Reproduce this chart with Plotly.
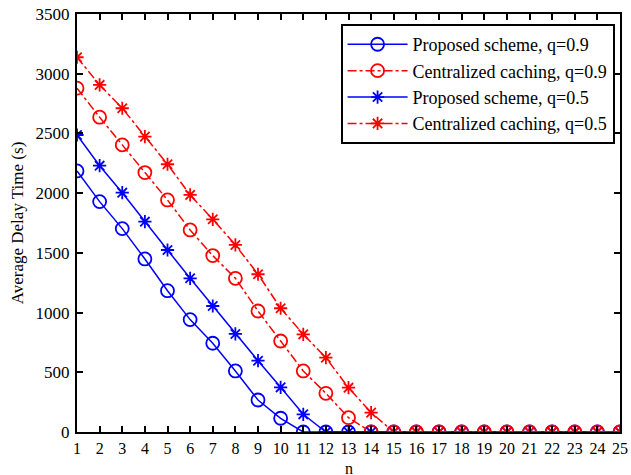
import plotly.graph_objects as go

n = list(range(1, 26))

proposed_09 = [2186, 1929, 1703, 1449, 1183, 941, 743, 511, 268, 115] + [0] * 15
central_09 = [2879, 2636, 2404, 2172, 1943, 1692, 1477, 1287, 1013, 762, 511, 324, 120] + [0] * 12
proposed_05 = [2487, 2230, 2004, 1761, 1524, 1287, 1055, 821, 597, 374, 148] + [0] * 14
central_05 = [3138, 2906, 2711, 2473, 2242, 1985, 1781, 1566, 1321, 1036, 818, 622, 371, 162] + [0] * 11

names = ["Proposed scheme, q=0.9", "Centralized caching, q=0.9",
         "Proposed scheme, q=0.5", "Centralized caching, q=0.5"]

BLUE = "#0000ff"
RED = "#ff0000"

series = [
    (proposed_09, names[0], BLUE, "solid", "circle-open", 13),
    (central_09, names[1], RED, "dashdot", "circle-open", 13),
    (proposed_05, names[2], BLUE, "solid", "asterisk-open", 11),
    (central_05, names[3], RED, "dashdot", "asterisk-open", 11),
]

fig = go.Figure()
for ys, name, color, dash, sym, sz in series:
    fig.add_trace(go.Scatter(
        x=n, y=ys, name=name, mode="lines+markers",
        line=dict(color=color, width=1.5, dash=dash),
        marker=dict(symbol=sym, size=sz, color=color, line=dict(color=color, width=1.8)),
    ))

font_family = "Liberation Serif, Times New Roman, serif"
fig.update_layout(
    width=631, height=475,
    margin=dict(l=77, r=11, t=14, b=43),
    paper_bgcolor="white", plot_bgcolor="white",
    font=dict(family=font_family, size=17, color="black"),
    showlegend=True,
    legend=dict(
        x=0.99, y=0.976, xanchor="right", yanchor="top",
        bordercolor="black", borderwidth=2, bgcolor="white",
        font=dict(family=font_family, size=18, color="black"),
        tracegroupgap=0, itemwidth=60,
    ),
    annotations=[dict(
        text="n", xref="paper", yref="paper", x=0.5, y=0,
        xanchor="center", yanchor="bottom", yshift=-43, showarrow=False,
        height=12, borderpad=0, valign="middle",
        font=dict(family=font_family, size=16, color="black"),
    )],
)
fig.update_xaxes(
    range=[1, 25], tickmode="array", tickvals=n, ticktext=[str(v) for v in n],
    showgrid=False, zeroline=False, showline=True, linecolor="black", linewidth=2,
    mirror="ticks", ticks="inside", ticklen=6, tickwidth=1.5, tickcolor="black",
    ticklabelstandoff=1, automargin=False, tickfont=dict(size=16),
)
fig.update_yaxes(
    range=[0, 3500], tickmode="array", tickvals=list(range(0, 3501, 500)),
    showgrid=False, zeroline=False, showline=True, linecolor="black", linewidth=2,
    mirror="ticks", ticks="inside", ticklen=6, tickwidth=1.5, tickcolor="black",
    ticklabelstandoff=2, automargin=False,
    title=dict(text="Average Delay Time (s)", standoff=8, font=dict(size=17)),
)

fig.write_html("out.html")
